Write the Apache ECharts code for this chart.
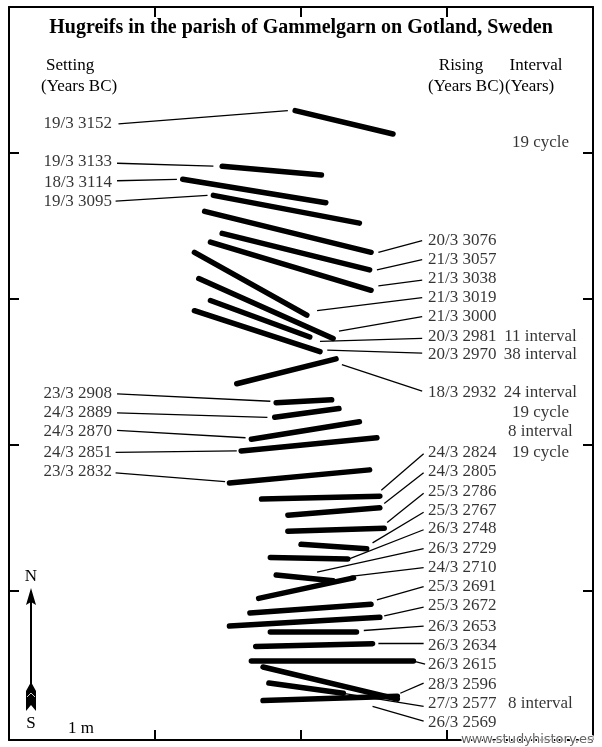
<!DOCTYPE html>
<html><head><meta charset="utf-8">
<script src="https://cdn.jsdelivr.net/npm/echarts@6/dist/echarts.min.js"></script>
<style>html,body{margin:0;padding:0;background:#fff}#c{width:602px;height:747px}</style>
</head><body><div id="c"></div>
<script>
// Units: centimetres on the ground (tick interval = 1 m)
// Thick bars: hugreifs [x1, y1, x2, y2]
const hugreifs = [
  [196,71,263,87],[146,109,214,115],[119,118,217,134],[140,129,240,148],
  [134,140,248,168],[146,155,247,180],[138,161,248,194],[127,168,204,211],
  [130,186,222,227],[138,201,206,226],[127,208,213,236],[156,258,224,241],
  [183,271,221,269],[182,281,226,275],[166,296,240,284],[159,304,252,295],
  [151,326,247,317],[173,337,254,335],[191,348,254,343],[191,359,257,357],
  [200,368,245,371],[179,377,232,378],[183,389,222,393],[171,405,236,391],
  [165,415,248,409],[151,424,254,418],[179,428,238,428],[169,438,249,436],
  [166,448,277,448],[174,452,266,474],[178,463,229,470],[174,475,266,472]
];
// Leader lines from setting labels (left)
const settingLeaders = [
  [75,80,191,71],[74,107,140,109],[74,119,115,118],[73,133,136,129],
  [74,265,179,270],[74,278,177,281],[74,290,162,295],[73,305,156,304],[73,319,148,325]
];
// Leader lines to rising labels (right)
const risingLeaders = [
  [253,168,283,160],[252,180,283,173],[253,191,283,187],[211,208,283,199],
  [226,222,283,212],[213,229,283,227],[218,235,283,237],[228,245,283,263],
  [255,331,284,306],[257,340,284,319],[259,353,284,333],[249,367,284,346],
  [233,378,284,358],[211,387,284,371],[234,390,284,384],[252,406,284,397],
  [257,417,284,411],[243,427,284,424],[253,436,284,436],[277,448,285,450],
  [268,470,284,463],[229,470,284,479],[249,479,284,489]
];
const settingDates = ['19/3 3152','19/3 3133','18/3 3114','19/3 3095','23/3 2908','24/3 2889','24/3 2870','24/3 2851','23/3 2832'];
const settingY = [80,106,120,133,265,278,291,305,318];
const risingDates = ['20/3 3076','21/3 3057','21/3 3038','21/3 3019','21/3 3000','20/3 2981','20/3 2970','18/3 2932',
  '24/3 2824','24/3 2805','25/3 2786','25/3 2767','26/3 2748','26/3 2729','24/3 2710','25/3 2691',
  '25/3 2672','26/3 2653','26/3 2634','26/3 2615','28/3 2596','27/3 2577','26/3 2569'];
const risingY = [160,173,186,199,212,226,238,264,305,318,332,345,357,371,384,397,410,424,437,450,464,477,490];
const intervalTexts = ['19 cycle','11 interval','38 interval','24 interval','19 cycle','8 interval','19 cycle','8 interval'];
const intervalY = [93,226,238,264,278,291,305,477];
const meterTicks = [100,200,300,400];

const SETTING_X = 70.5, RISING_X = 287, INTERVAL_X = 364;
const serif = '"Liberation Serif","Times New Roman",serif';
const chart = echarts.init(document.getElementById('c'));

const toLines = arr => arr.map(s => ({coords: [[s[0], s[1]], [s[2], s[3]]]}));
const axisCommon = {
  type: 'value', min: 0, interval: 100,
  axisLine: {show: true, onZero: false, lineStyle: {color: '#000', width: 2}},
  axisTick: {show: true, inside: true, length: 10, customValues: meterTicks, lineStyle: {color: '#000', width: 2}},
  axisLabel: {show: false}, splitLine: {show: false}
};
const labelStyle = {color: '#000', fontFamily: serif, fontSize: 17};

chart.setOption({
  animation: false,
  backgroundColor: '#fff',
  grid: {left: 9, top: 7, width: 584, height: 733},
  xAxis: [
    Object.assign({}, axisCommon, {max: 400, position: 'bottom'}),
    Object.assign({}, axisCommon, {max: 400, position: 'top'})
  ],
  yAxis: [
    Object.assign({}, axisCommon, {max: 502, inverse: true, position: 'left'}),
    Object.assign({}, axisCommon, {max: 502, inverse: true, position: 'right'})
  ],
  series: [
    {type: 'lines', coordinateSystem: 'cartesian2d', data: toLines(settingLeaders.concat(risingLeaders)),
      lineStyle: {color: '#000', width: 1.3, opacity: 1}, silent: true},
    {type: 'lines', coordinateSystem: 'cartesian2d', data: toLines(hugreifs),
      lineStyle: {color: '#000', width: 5.5, cap: 'round', opacity: 1}, silent: true},
    {type: 'scatter', symbolSize: 0,
      data: settingDates.map((d, i) => ({name: d, value: [SETTING_X, settingY[i]]})),
      label: Object.assign({show: true, position: 'left', distance: 0, formatter: p => p.name}, labelStyle)},
    {type: 'scatter', symbolSize: 0,
      data: risingDates.map((d, i) => ({name: d, value: [RISING_X, risingY[i]]})),
      label: Object.assign({show: true, position: 'right', distance: 0, formatter: p => p.name}, labelStyle)},
    {type: 'scatter', symbolSize: 0,
      data: intervalTexts.map((d, i) => ({name: d, value: [INTERVAL_X, intervalY[i]]})),
      label: Object.assign({show: true, position: 'inside', formatter: p => p.name}, labelStyle)}
  ],
  graphic: [
    {type: 'text', left: 'center', top: 18, style: {text: 'Hugreifs in the parish of Gammelgarn on Gotland, Sweden', fill: '#000', font: 'bold 20px ' + serif}},
    {type: 'text', x: 46, y: 66, style: {text: 'Setting', fill: '#000', font: '17px ' + serif, verticalAlign: 'middle'}},
    {type: 'text', x: 41, y: 87, style: {text: '(Years BC)', fill: '#000', font: '17px ' + serif, verticalAlign: 'middle'}},
    {type: 'text', x: 461, y: 66, style: {text: 'Rising', fill: '#000', font: '17px ' + serif, align: 'center', verticalAlign: 'middle'}},
    {type: 'text', x: 428, y: 87, style: {text: '(Years BC)', fill: '#000', font: '17px ' + serif, verticalAlign: 'middle'}},
    {type: 'text', x: 536, y: 66, style: {text: 'Interval', fill: '#000', font: '17px ' + serif, align: 'center', verticalAlign: 'middle'}},
    {type: 'text', x: 505, y: 87, style: {text: '(Years)', fill: '#000', font: '17px ' + serif, verticalAlign: 'middle'}},
    // north arrow
    {type: 'text', x: 31, y: 577, style: {text: 'N', fill: '#000', font: '17px ' + serif, align: 'center', verticalAlign: 'middle'}},
    {type: 'line', shape: {x1: 31, y1: 600, x2: 31, y2: 690}, style: {stroke: '#000', lineWidth: 2}},
    {type: 'polygon', shape: {points: [[31, 588], [36, 605], [31, 602], [26, 605]]}, style: {fill: '#000'}},
    {type: 'polygon', shape: {points: [[31, 682], [36, 691], [36, 711], [31, 705], [26, 711], [26, 691]]}, style: {fill: '#000'}},
    {type: 'line', shape: {x1: 27, y1: 697, x2: 31, y2: 693}, style: {stroke: '#fff', lineWidth: 0.8}},
    {type: 'line', shape: {x1: 35, y1: 697, x2: 31, y2: 693}, style: {stroke: '#fff', lineWidth: 0.8}},
    {type: 'text', x: 31, y: 724, style: {text: 'S', fill: '#000', font: '17px ' + serif, align: 'center', verticalAlign: 'middle'}},
    {type: 'text', x: 68, y: 729, style: {text: '1 m', fill: '#000', font: '17px ' + serif, verticalAlign: 'middle'}},
    {type: 'text', x: 461, y: 740, z: 100, style: {text: 'www.studyhistory.es', fill: '#666', stroke: '#fff', lineWidth: 2, font: '13px "DejaVu Sans",sans-serif', verticalAlign: 'middle'}}
  ]
});
</script></body></html>
